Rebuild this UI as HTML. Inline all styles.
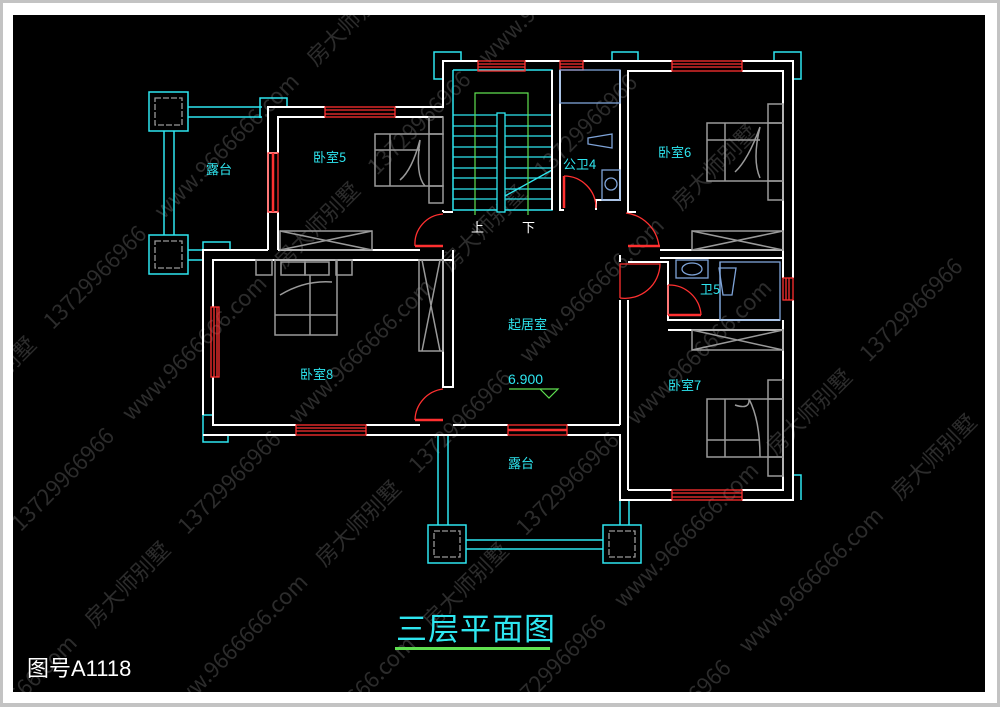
<!DOCTYPE html>
<html><head><meta charset="utf-8"><style>
html,body{margin:0;padding:0;background:#c3c3c3;width:1000px;height:707px;overflow:hidden;}
svg{display:block}
</style></head><body>
<svg width="1000" height="707" viewBox="0 0 1000 707" xmlns="http://www.w3.org/2000/svg" font-family="Liberation Sans, Noto Sans CJK SC, sans-serif">
<defs><clipPath id="c"><rect x="13" y="15" width="972" height="677"/></clipPath></defs>
<rect x="0" y="0" width="1000" height="707" fill="#c3c3c3"/>
<rect x="3" y="3" width="994" height="700" fill="#fff"/>
<rect x="13" y="15" width="972" height="677" fill="#000"/>

<!-- watermarks -->
<g clip-path="url(#c)">
<g fill="#2c2c2c" font-size="22" font-family="Noto Sans CJK SC, sans-serif">
<g transform="rotate(-45 500 350)">
<text x="-100" y="140">房大师别墅　13729966966　www.9666666.com　房大师别墅　13729966966　www.9666666.com</text>
<text x="-200" y="260">www.9666666.com　房大师别墅　13729966966　www.9666666.com　房大师别墅　13729966966</text>
<text x="-150" y="380">13729966966　www.9666666.com　房大师别墅　13729966966　www.9666666.com　房大师别墅</text>
<text x="-250" y="500">房大师别墅　13729966966　www.9666666.com　房大师别墅　13729966966　www.9666666.com</text>
<text x="-100" y="620">www.9666666.com　房大师别墅　13729966966　www.9666666.com　房大师别墅　13729966966</text>
<text x="-200" y="740">13729966966　www.9666666.com　房大师别墅　13729966966　www.9666666.com　房大师别墅</text>
<text x="-150" y="20">www.9666666.com　房大师别墅　13729966966　www.9666666.com　房大师别墅</text>
</g></g></g>

<!-- cyan columns & terrace -->
<g fill="none" stroke="#2ee6f0" stroke-width="1.5">
<rect x="149" y="92" width="39" height="39"/>
<rect x="149" y="235" width="39" height="39"/>
<rect x="428" y="525" width="38" height="38"/>
<rect x="603" y="525" width="38" height="38"/>
<line x1="188" y1="107" x2="262" y2="107"/><line x1="188" y1="117" x2="262" y2="117"/>
<line x1="164" y1="131" x2="164" y2="235"/><line x1="174" y1="131" x2="174" y2="235"/>
<line x1="188" y1="250" x2="203" y2="250"/><line x1="188" y1="260" x2="203" y2="260"/>
<line x1="466" y1="540" x2="603" y2="540"/><line x1="466" y1="549" x2="603" y2="549"/>
<line x1="438" y1="435" x2="438" y2="525"/><line x1="448" y1="435" x2="448" y2="525"/>
<line x1="620" y1="500" x2="620" y2="525"/><line x1="629" y1="500" x2="629" y2="525"/>
<polyline points="260,118 260,98 287,98 287,107"/>
<polyline points="203,268 203,242 230,242 230,250"/>
<polyline points="213,415 203,415 203,442 228,442 228,435"/>
<polyline points="443,79 434,79 434,52 461,52 461,61"/>
<polyline points="612,61 612,52 638,52 638,61"/>
<polyline points="774,61 774,52 801,52 801,79 793,79"/>
<polyline points="793,475 801,475 801,500"/>
<polyline points="453,70 552,70 552,210 453,210 453,70"/>
</g>
<g fill="none" stroke="#999" stroke-width="1.3" stroke-dasharray="6,2">
<rect x="155" y="98" width="27" height="27"/><rect x="155" y="241" width="27" height="27"/>
<rect x="434" y="531" width="26" height="26"/><rect x="609" y="531" width="26" height="26"/>
</g>

<!-- stairs -->
<g stroke="#2ee6f0" stroke-width="1.3">
<line x1="453" y1="115" x2="552" y2="115"/><line x1="453" y1="126" x2="552" y2="126"/>
<line x1="453" y1="136" x2="552" y2="136"/><line x1="453" y1="147" x2="552" y2="147"/>
<line x1="453" y1="157" x2="552" y2="157"/><line x1="453" y1="168" x2="552" y2="168"/>
<line x1="453" y1="178" x2="552" y2="178"/><line x1="453" y1="189" x2="552" y2="189"/>
<line x1="453" y1="199" x2="552" y2="199"/>
<line x1="505" y1="196" x2="552" y2="170"/>
</g>
<rect x="497" y="113" width="8" height="99" fill="#000" stroke="#2ee6f0" stroke-width="1.3"/>
<polyline points="475,215 475,93 528,93 528,215" fill="none" stroke="#5fe050" stroke-width="1.2"/>
<text x="471" y="232" fill="#fff" font-size="13" font-family="Noto Sans CJK SC,sans-serif">上</text>
<text x="522" y="232" fill="#fff" font-size="13" font-family="Noto Sans CJK SC,sans-serif">下</text>

<!-- walls -->
<g fill="none" stroke="#fff" stroke-width="2">
<polyline points="268,250 268,107 325,107"/><polyline points="395,107 443,107 443,61 478,61"/>
<polyline points="278,153 278,117 325,117"/><polyline points="395,117 443,117"/>
<line x1="268" y1="153" x2="278" y2="153"/><line x1="268" y1="212" x2="278" y2="212"/>
<polyline points="278,212 278,250"/>
<polyline points="525,61 560,61"/><polyline points="583,61 672,61"/><polyline points="742,61 793,61 793,278"/>
<polyline points="783,278 783,71 742,71"/><polyline points="672,71 628,71 628,208"/>
<polyline points="552,70 552,210"/><polyline points="560,70 560,210 564,210"/>
<polyline points="596,210 596,200 620,200 620,70"/>
<polyline points="443,212 453,212"/><polyline points="443,212 443,210"/>
<polyline points="203,415 203,250 268,250"/><polyline points="213,307 213,260 453,260 453,250"/>
<polyline points="278,250 420,250"/>
<polyline points="203,435 296,435"/><polyline points="366,435 508,435"/><polyline points="567,435 620,435 620,500 672,500"/>
<polyline points="213,377 213,425 296,425"/><polyline points="366,425 420,425"/>
<polyline points="453,425 508,425"/><polyline points="567,425 620,425"/>
<polyline points="443,250 443,387 453,387 453,260"/>
<polyline points="742,500 793,500 793,300"/><polyline points="742,490 783,490 783,320"/>
<polyline points="628,490 672,490"/><polyline points="628,490 628,300"/><polyline points="620,425 620,300"/>
<polyline points="628,208 628,212 636,212"/>
<polyline points="660,250 783,250"/><polyline points="660,258 783,258"/>
<polyline points="620,255 620,262"/><polyline points="628,262 668,262 668,320 780,320"/>
<polyline points="668,330 783,330"/>
</g>

<!-- windows -->
<g fill="none" stroke="#ff3030" stroke-width="1.3">
<rect x="478" y="61" width="47" height="10"/><line x1="478" y1="64" x2="525" y2="64"/><line x1="478" y1="67" x2="525" y2="67"/>
<rect x="560" y="61" width="23" height="9"/><line x1="560" y1="64" x2="583" y2="64"/><line x1="560" y1="67" x2="583" y2="67"/>
<rect x="672" y="61" width="70" height="10"/><line x1="672" y1="64" x2="742" y2="64"/><line x1="672" y1="67" x2="742" y2="67"/>
<rect x="325" y="107" width="70" height="10"/><line x1="325" y1="110" x2="395" y2="110"/><line x1="325" y1="114" x2="395" y2="114"/>
<rect x="268" y="153" width="10" height="59"/><line x1="273" y1="153" x2="273" y2="212" stroke-width="2.5"/>
<rect x="211" y="307" width="8" height="70"/><line x1="214" y1="307" x2="214" y2="377"/><line x1="217" y1="307" x2="217" y2="377"/>
<rect x="296" y="425" width="70" height="10"/><line x1="296" y1="428" x2="366" y2="428"/><line x1="296" y1="431" x2="366" y2="431"/>
<rect x="508" y="425" width="59" height="10"/><line x1="508" y1="430" x2="567" y2="430" stroke-width="2.5"/>
<rect x="672" y="490" width="70" height="10"/><line x1="672" y1="493" x2="742" y2="493"/><line x1="672" y1="497" x2="742" y2="497"/>
<rect x="783" y="278" width="10" height="22"/><line x1="786" y1="278" x2="786" y2="300"/><line x1="789" y1="278" x2="789" y2="300"/>
</g>
<!-- doors -->
<g fill="none" stroke="#ff3030" stroke-width="1.3">
<path d="M415,246 A30,30 0 0 1 443,214"/><line x1="415" y1="246" x2="443" y2="246" stroke-width="2.5"/>
<path d="M564,176 A32,32 0 0 1 596,208"/><line x1="564" y1="176" x2="564" y2="208" stroke-width="2.5"/>
<path d="M626,213 A38,38 0 0 1 659,246"/><line x1="628" y1="246" x2="660" y2="246" stroke-width="2.5"/>
<path d="M620,298 L620,264 L660,264 A35,35 0 0 1 620,298"/>
<path d="M668,285 A32,32 0 0 1 701,315"/><line x1="668" y1="285" x2="668" y2="315"/><line x1="668" y1="315" x2="701" y2="315" stroke-width="2.5"/>
<path d="M415,420 A32,32 0 0 1 443,389"/><line x1="415" y1="420" x2="443" y2="420" stroke-width="2.5"/>
</g>

<!-- furniture -->
<g fill="none" stroke="#9a9a9a" stroke-width="1.5">
<rect x="375" y="134" width="68" height="52"/><rect x="429" y="117" width="14" height="17"/><rect x="429" y="186" width="14" height="17"/>
<line x1="429" y1="134" x2="429" y2="186"/><line x1="375" y1="150" x2="420" y2="150"/><line x1="390" y1="134" x2="390" y2="186"/>
<path d="M420,140 Q415,175 425,186 M400,180 Q412,170 420,140"/>
<rect x="707" y="123" width="76" height="58"/><rect x="768" y="104" width="15" height="19"/><rect x="768" y="181" width="15" height="19"/>
<line x1="768" y1="123" x2="768" y2="181"/><line x1="707" y1="140" x2="760" y2="140"/><line x1="725" y1="123" x2="725" y2="181"/>
<path d="M760,127 Q752,160 760,178 M735,172 Q748,160 760,127"/>
<rect x="707" y="399" width="76" height="58"/><rect x="768" y="380" width="15" height="19"/><rect x="768" y="457" width="15" height="19"/>
<line x1="768" y1="399" x2="768" y2="457"/><line x1="707" y1="440" x2="760" y2="440"/><line x1="725" y1="399" x2="725" y2="457"/>
<path d="M749,399 Q760,420 760,457 M735,405 Q750,410 749,399"/>
<rect x="275" y="260" width="62" height="75"/><rect x="256" y="260" width="16" height="15"/><rect x="336" y="260" width="16" height="15"/>
<rect x="281" y="262" width="24" height="13"/><rect x="305" y="262" width="24" height="13"/>
<line x1="275" y1="315" x2="337" y2="315"/><line x1="310" y1="275" x2="310" y2="335"/><path d="M280,295 Q305,280 332,282"/>
<rect x="280" y="231" width="92" height="19"/><path d="M280,231 L372,250 M280,250 L372,231"/>
<rect x="692" y="231" width="91" height="19"/><path d="M692,231 L783,250 M692,250 L783,231"/>
<rect x="692" y="330" width="91" height="20"/><path d="M692,330 L783,350 M692,350 L783,330"/>
<rect x="419" y="260" width="24" height="91"/><path d="M422,260 L440,351 M440,260 L422,351"/>
</g>
<g fill="none" stroke="#7ea3d8" stroke-width="1.3">
<rect x="560" y="70" width="60" height="33"/><rect x="602" y="170" width="18" height="30"/><circle cx="611" cy="184" r="6"/>
<path d="M588,138 L612,134 L612,148 L588,144 Z"/>
<rect x="676" y="260" width="32" height="18"/><ellipse cx="692" cy="269" rx="10" ry="6"/>
<rect x="720" y="262" width="60" height="58"/><path d="M720,262 L720,320"/><path d="M719,268 L736,268 L732,295 L723,295 Z"/>
</g>

<!-- labels -->
<g fill="#2ee6f0" font-size="13" font-family="Noto Sans CJK SC,sans-serif">
<text x="206" y="174">露台</text>
<text x="313" y="162">卧室5</text>
<text x="563" y="169">公卫4</text>
<text x="658" y="157">卧室6</text>
<text x="700" y="294">卫5</text>
<text x="508" y="329">起居室</text>
<text x="300" y="379">卧室8</text>
<text x="668" y="390">卧室7</text>
<text x="508" y="468">露台</text>
<text x="508" y="384" font-family="Liberation Sans,sans-serif" font-size="14">6.900</text>
</g>
<polyline points="509,389 558,389 549,398 540,389" fill="none" stroke="#5fe050" stroke-width="1.2"/>

<text x="396" y="640" fill="#2ee6f0" font-size="31" font-family="Noto Sans CJK SC,sans-serif" letter-spacing="1">三层平面图</text>
<rect x="395" y="647" width="155" height="3" fill="#5fe050"/>
<text x="27" y="676" fill="#fff" font-size="22" font-family="Liberation Sans, Noto Sans CJK SC, sans-serif">图号A1118</text>
</svg>
</body></html>
